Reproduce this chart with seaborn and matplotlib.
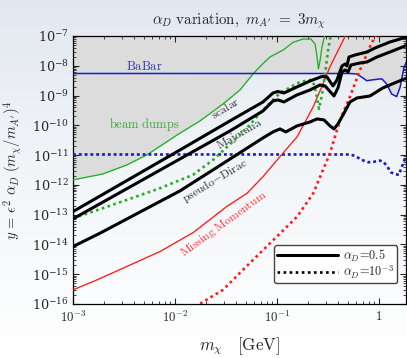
import numpy as np
import matplotlib
matplotlib.use("Agg")
import matplotlib.pyplot as plt
import seaborn as sns
from matplotlib.lines import Line2D
from matplotlib.colors import LinearSegmentedColormap
from matplotlib.ticker import LogLocator, NullFormatter, FixedLocator, FixedFormatter

# ---------------- data ----------------
babar_m = [1e-3, 0.52, 0.604, 0.697, 0.757, 0.853, 1.02, 1.07, 1.19, 1.33, 1.49, 1.61, 1.76, 1.88]
babar_y = [5.5e-9, 5.5e-9, 5.3e-9, 3.9e-9, 3.16e-9, 3.34e-9, 3.61e-9, 3.61e-9, 2.45e-9, 1.13e-9,
           9.2e-10, 1.9e-9, 8.9e-9, 1.48e-8]

babar_dot_m = [1e-3, 0.52, 0.582, 0.676, 0.785, 0.879, 1.02, 1.10, 1.21, 1.30, 1.44, 1.57, 1.64, 1.73, 1.84]
babar_dot_y = [1.05e-11, 1.05e-11, 9.4e-12, 6.9e-12, 5.78e-12, 5.91e-12, 6.53e-12, 6.05e-12, 4.11e-12,
               2.67e-12, 2.29e-12, 2.17e-12, 3.36e-12, 5.35e-12, 9.4e-12]

beam_m = [1e-3, 1.97e-3, 3.38e-3, 5.31e-3, 1.05e-2, 1.76e-2, 2.96e-2, 4.34e-2, 5.82e-2, 7.13e-2,
          8.53e-2, 0.115, 0.144, 0.180, 0.215, 0.236, 0.247, 0.255, 0.264, 0.276, 0.296]
beam_y = [1.47e-12, 2.34e-12, 4.69e-12, 1.02e-11, 4.76e-11, 1.41e-10, 5.22e-10, 1.54e-9, 5.31e-9,
          1.1e-8, 1.97e-8, 3.39e-8, 6.15e-8, 7.93e-8, 7.93e-8, 5.39e-8, 1.97e-8, 7.82e-9, 1.45e-8,
          4.28e-8, 1.17e-7]

scalar_m = [1e-3, 1.12e-2, 3.46e-2, 7.29e-2, 9.14e-2, 0.102, 0.117, 0.157, 0.211, 0.276, 0.309,
            0.354, 0.387, 0.434, 0.465, 0.485, 0.508, 0.582, 0.762, 0.914, 1.02, 1.28, 1.61, 1.88]
scalar_y = [1.27e-13, 1.49e-11, 1.41e-10, 6.10e-10, 1.22e-9, 1.37e-9, 1.22e-9, 1.95e-9, 3.09e-9,
            4.38e-9, 4.21e-9, 2.10e-9, 3.34e-9, 9.84e-9, 1.15e-8, 9.84e-9, 1.97e-8, 2.30e-8,
            2.90e-8, 3.96e-8, 4.61e-8, 6.29e-8, 7.93e-8, 9.25e-8]

majorana_m = [1e-3, 1.12e-2, 3.46e-2, 7.29e-2, 9.14e-2, 0.102, 0.117, 0.157, 0.211, 0.264, 0.296,
              0.362, 0.396, 0.434, 0.465, 0.497, 0.531, 0.652, 0.762, 0.955, 1.28, 1.61, 1.88]
majorana_y = [7.23e-14, 7.45e-12, 6.49e-11, 3.04e-10, 6.59e-10, 7.11e-10, 6.10e-10, 1.05e-9,
              1.54e-9, 2.27e-9, 2.10e-9, 9.70e-10, 1.80e-9, 6.19e-9, 7.23e-9, 6.19e-9, 1.06e-8,
              1.24e-8, 1.34e-8, 1.97e-8, 2.90e-8, 3.96e-8, 4.9e-8]

pseudo_m = [1e-3, 1.84e-3, 1.12e-2, 2.36e-2, 5.08e-2, 7.29e-2, 9.14e-2, 0.107, 0.122, 0.157, 0.211,
            0.247, 0.289, 0.331, 0.362, 0.396, 0.444, 0.520, 0.608, 0.817, 1.09, 1.50, 1.88]
pseudo_y = [8.51e-15, 2.39e-14, 6.30e-13, 3.19e-12, 1.71e-11, 3.78e-11, 6.01e-11, 7.57e-11,
            6.01e-11, 9.55e-11, 1.30e-10, 1.64e-10, 1.52e-10, 9.55e-11, 7.57e-11, 1.11e-10,
            2.23e-10, 6.10e-10, 8.30e-10, 9.70e-10, 1.80e-9, 2.86e-9, 3.90e-9]

green_dot_m = [1e-3, 1.57e-3, 3.38e-3, 7.13e-3, 1.50e-2, 2.36e-2, 3.71e-2, 5.08e-2, 7.29e-2, 0.107,
               0.168, 0.211, 0.225, 0.241, 0.258, 0.276, 0.296, 0.316, 0.338]
green_dot_y = [7.64e-14, 1.27e-13, 3.14e-13, 7.75e-13, 2.17e-12, 6.90e-12, 2.9e-11, 8.18e-11,
               3.29e-10, 1.22e-9, 2.86e-9, 3.34e-9, 3.09e-9, 1.32e-9, 3.55e-10, 1.05e-9, 5.31e-9,
               3.14e-8, 1.17e-7]

mm_m = [1e-3, 1.58e-3, 3.36e-3, 7.13e-3, 1.51e-2, 3.21e-2, 5.10e-2, 7.3e-2, 0.107, 0.158, 0.227,
        0.284, 0.331, 0.415, 0.482]
mm_y = [3.00e-16, 5.69e-16, 1.81e-15, 5.78e-15, 2.51e-14, 1.87e-13, 5.26e-13, 1.90e-12, 8.91e-12,
        4.18e-11, 4.24e-10, 2.59e-9, 9.33e-9, 4.38e-8, 1.23e-7]

mm_dot_m = [1.57e-2, 1.76e-2, 2.96e-2, 5.08e-2, 0.158, 0.227, 0.331, 0.415, 0.520, 0.652, 0.817, 0.948]
mm_dot_y = [8.05e-17, 1.02e-16, 3.00e-16, 1.91e-15, 8.63e-14, 5.26e-13, 1.16e-11, 1.52e-10,
            9.18e-10, 7.23e-9, 4.38e-8, 1.23e-7]

x_tick_vals = [1e-3, 1e-2, 1e-1, 1]
x_tick_labels = [r"$10^{-3}$", r"$10^{-2}$", r"$10^{-1}$", r"$1$"]

# ---------------- style ----------------
sns.set_style("ticks")
plt.rcParams.update({
    "mathtext.fontset": "cm",
    "font.family": ["DejaVu Serif"],
    "xtick.direction": "in", "ytick.direction": "in",
    "xtick.top": True, "ytick.right": True,
    "xtick.major.size": 4.5, "ytick.major.size": 4.5,
    "xtick.minor.size": 2.5, "ytick.minor.size": 2.5,
    "xtick.major.width": 0.8, "ytick.major.width": 0.8,
    "xtick.minor.width": 0.6, "ytick.minor.width": 0.6,
    "axes.linewidth": 0.9,
    "axes.edgecolor": "black",
})

fig = plt.figure(figsize=(4.07, 3.58), dpi=100)

# background gradient
bg = fig.add_axes([0, 0, 1, 1], zorder=-10)
grad = np.linspace(0, 1, 256).reshape(-1, 1)
cmap = LinearSegmentedColormap.from_list("bg", ["#e2e8f0", "#f3f6f9", "#ffffff"])
bg.imshow(grad, aspect="auto", cmap=cmap, extent=[0, 1, 0, 1], origin="upper")
bg.set_axis_off()

ax = fig.add_axes([73 / 407, 1 - 304 / 358, (406 - 73) / 407, (304 - 36) / 358])
ax.patch.set_alpha(0)
ax.set_xscale("log")
ax.set_yscale("log")
ax.set_xlim(1e-3, 1.84)
ax.set_ylim(1e-16, 1e-7)

# excluded region (gray)
grid = np.geomspace(1e-3, 1.9, 800)
lg = np.log10(grid)
env_b = np.interp(lg, np.log10(babar_m), np.log10(babar_y))
env_d = np.interp(lg, np.log10(beam_m), np.log10(beam_y), right=-5)
env = 10 ** np.minimum(env_b, env_d)
ax.fill_between(grid, env, 1e-6, color="#dcdcdc", lw=0, zorder=0)

def curve(x, y, **kw):
    sns.lineplot(x=x, y=y, ax=ax, estimator=None, sort=False, legend=False, **kw)

dot = (0, (1, 1.3))
curve(beam_m, beam_y, color="#22b022", lw=0.95, zorder=3)
curve(babar_m, babar_y, color="#1a1acc", lw=1.1, zorder=3)
curve(babar_dot_m, babar_dot_y, color="#1a1acc", lw=1.9, linestyle=(0, (1.1, 1.1)), zorder=3)
curve(mm_m, mm_y, color="#ff1a1a", lw=0.95, zorder=3)
curve(mm_dot_m, mm_dot_y, color="#ff1a1a", lw=1.9, linestyle=dot, zorder=3)
curve(green_dot_m, green_dot_y, color="#22b022", lw=1.9, linestyle=dot, zorder=4)
curve(scalar_m, scalar_y, color="black", lw=2.2, zorder=5)
curve(majorana_m, majorana_y, color="black", lw=2.2, zorder=5)
curve(pseudo_m, pseudo_y, color="black", lw=2.2, zorder=5)

# curve labels
fs = 8.5
ax.text(5.0e-3, 9.5e-9, r"$\mathrm{BaBar}$", color="#3333bb", fontsize=9, ha="center", va="center")
ax.text(5.0e-3, 1.03e-10, r"$\mathrm{beam\ dumps}$", color="#33aa33", fontsize=9, ha="center", va="center")
ax.text(3.1e-2, 3.7e-10, r"$\mathrm{scalar}$", color="#333333", fontsize=fs, rotation=31,
        ha="center", va="center")
ax.text(4.34e-2, 5.0e-11, r"$\mathrm{Majorana}$", color="#333333", fontsize=fs, rotation=30,
        ha="center", va="center")
ax.text(2.47e-2, 1.36e-12, r"$\mathrm{pseudo}{-}\mathrm{Dirac}$", color="#333333", fontsize=fs,
        rotation=31, ha="center", va="center")
ax.text(3.02e-2, 4.9e-14, r"$\mathrm{Missing\ Momentum}$", color="#ff3333", fontsize=fs,
        rotation=36, ha="center", va="center")

# ticks
ax.xaxis.set_major_locator(FixedLocator(x_tick_vals))
ax.xaxis.set_major_formatter(FixedFormatter(x_tick_labels))
ax.xaxis.set_minor_locator(LogLocator(base=10, subs=np.arange(2, 10), numticks=100))
ax.xaxis.set_minor_formatter(NullFormatter())
ax.yaxis.set_major_locator(LogLocator(base=10, numticks=30))
ax.yaxis.set_minor_locator(LogLocator(base=10, subs=np.arange(2, 10), numticks=200))
ax.yaxis.set_minor_formatter(NullFormatter())
ax.tick_params(axis="both", which="major", labelsize=9.2, pad=4)
ax.tick_params(axis="y", which="major", pad=3)

ax.set_title(r"$\alpha_D\ \mathrm{variation,}\ m_{A^\prime}\ =\ 3m_\chi$", fontsize=10.8, pad=8)
ax.set_xlabel(r"$m_\chi\quad[\mathrm{GeV}]$", fontsize=12.2, labelpad=7.5)
ax.set_ylabel(r"$y\,=\,\epsilon^2\ \alpha_D\ (m_\chi/m_{A^\prime})^4$", fontsize=10.5, labelpad=6)

handles = [Line2D([], [], color="black", lw=2.2),
           Line2D([], [], color="black", lw=1.9, linestyle=dot)]
leg = ax.legend(handles, [r"$\alpha_D\!=\!0.5$", r"$\alpha_D\!=\!10^{-3}$"], loc="lower right",
                bbox_to_anchor=(0.973, 0.078), borderaxespad=0, fontsize=8.8, handlelength=5.0,
                handletextpad=0.45, frameon=True, fancybox=True, framealpha=1,
                edgecolor="#444444", facecolor="white", borderpad=0.2, labelspacing=0.0)
leg.get_frame().set_linewidth(1.0)
leg.set_zorder(10)

fig.savefig("out.png", dpi=100)
